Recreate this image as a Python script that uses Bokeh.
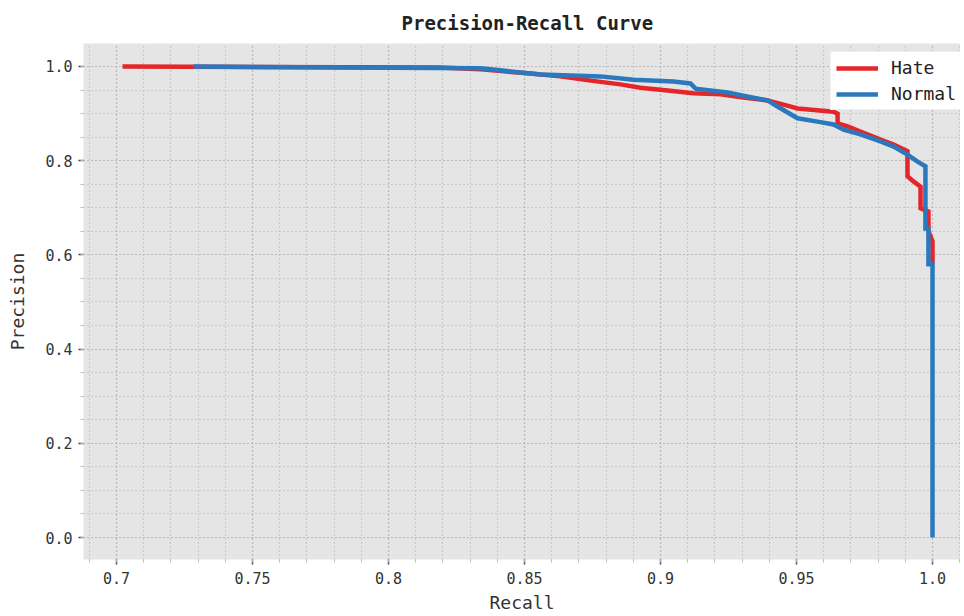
from bokeh.plotting import figure
from bokeh.models import FixedTicker, Range1d
from bokeh.embed import file_html
from bokeh.resources import INLINE

# ---- data ----
hate_recall = [0.7022, 0.8191, 0.8338, 0.8522, 0.8632, 0.8743, 0.8853, 0.8926, 0.9026, 0.9121,
               0.9221, 0.9305, 0.9393, 0.9452, 0.9504, 0.9636, 0.9651, 0.9651, 0.9688, 0.9735,
               0.9809, 0.9857, 0.9908, 0.9908, 0.9930, 0.9956, 0.9956, 0.9985, 0.9985, 1.0, 1.0]
hate_precision = [1.0, 0.998, 0.994, 0.985, 0.979, 0.970, 0.962, 0.955, 0.949, 0.943,
                  0.941, 0.934, 0.928, 0.919, 0.911, 0.904, 0.900, 0.879, 0.873, 0.862,
                  0.845, 0.834, 0.820, 0.767, 0.756, 0.745, 0.699, 0.692, 0.650, 0.629, 0.582]

normal_recall = [0.7283, 0.8338, 0.8559, 0.8779, 0.8901, 0.9048, 0.9110, 0.9129, 0.9246, 0.9305,
                 0.9393, 0.9430, 0.9504, 0.9577, 0.9636, 0.9673, 0.9735, 0.9809, 0.9857, 0.9908,
                 0.9945, 0.9974, 0.9974, 0.9985, 0.9985, 1.0, 1.0]
normal_precision = [1.0, 0.996, 0.983, 0.979, 0.972, 0.968, 0.964, 0.953, 0.945, 0.938,
                    0.928, 0.915, 0.890, 0.883, 0.877, 0.866, 0.856, 0.841, 0.830, 0.813,
                    0.798, 0.788, 0.656, 0.656, 0.580, 0.580, 0.0]

series_names = ["Hate", "Normal"]
series_colors = ["#e4262b", "#2b78bd"]

x_ticks = [0.7, 0.75, 0.8, 0.85, 0.9, 0.95, 1.0]
x_tick_labels = ["0.7", "0.75", "0.8", "0.85", "0.9", "0.95", "1.0"]
y_ticks = [0.0, 0.2, 0.4, 0.6, 0.8, 1.0]
y_tick_labels = ["0.0", "0.2", "0.4", "0.6", "0.8", "1.0"]
x_minor = [round(0.69 + 0.01 * i, 2) for i in range(33)]
y_minor = [round(-0.05 + 0.05 * i, 2) for i in range(23)]

MONO = "DejaVu Sans Mono"

p = figure(frame_width=877, frame_height=516, output_backend="svg", toolbar_location=None,
           x_range=Range1d(0.68787, 1.01029), y_range=Range1d(-0.0467, 1.0488),
           min_border_left=83, min_border_right=0, min_border_top=42, min_border_bottom=10,
           title="Precision-Recall Curve")

p.background_fill_color = "#e5e5e5"
p.border_fill_color = "white"
p.outline_line_color = None

p.title.text_font = MONO
p.title.text_font_size = "19px"
p.title.text_font_style = "bold"
p.title.align = "left"
p.title.offset = 318
p.title.standoff = 19
p.title.text_color = "#222222"

p.xaxis.ticker = FixedTicker(ticks=x_ticks, minor_ticks=x_minor)
p.yaxis.ticker = FixedTicker(ticks=y_ticks, minor_ticks=y_minor)
p.xaxis.major_label_overrides = dict(zip(x_ticks, x_tick_labels))
p.yaxis.major_label_overrides = dict(zip(y_ticks, y_tick_labels))

for ax in (p.xaxis[0], p.yaxis[0]):
    ax.axis_line_color = None
    ax.major_tick_line_color = "#444444"
    ax.major_tick_line_width = 1.5
    ax.major_tick_out = 5
    ax.major_tick_in = 0
    ax.minor_tick_line_color = "#bbbbbb"
    ax.minor_tick_out = 3
    ax.minor_tick_in = 0
    ax.major_label_text_font = MONO
    ax.major_label_text_font_size = "15px"
    ax.major_label_text_color = "#333333"
    ax.axis_label_text_font = MONO
    ax.axis_label_text_font_size = "18px"
    ax.axis_label_text_font_style = "normal"
    ax.axis_label_text_color = "#333333"

p.xaxis.axis_label = "Recall"
p.yaxis.axis_label = "Precision"
p.xaxis.major_label_standoff = 7
p.xaxis.axis_label_standoff = 5
p.yaxis.major_label_standoff = 6
p.yaxis.axis_label_standoff = 14

for g in (p.xgrid[0], p.ygrid[0]):
    g.grid_line_color = "#a8a8a8"
    g.grid_line_dash = "1 3"
    g.grid_line_width = 1.2
    g.minor_grid_line_color = "#b0b0b0"
    g.minor_grid_line_dash = "1 3"
    g.minor_grid_line_width = 1.2

p.line(hate_recall, hate_precision, line_color=series_colors[0], line_width=4.5,
       line_join="miter", legend_label=series_names[0])
p.line(normal_recall, normal_precision, line_color=series_colors[1], line_width=4.5,
       line_join="miter", legend_label=series_names[1])

lg = p.legend[0]
lg.location = (747, 449)
lg.margin = 0
lg.padding = 5
lg.spacing = 5
lg.glyph_width = 42
lg.glyph_height = 20
lg.label_height = 20
lg.label_standoff = 13
lg.label_text_font = MONO
lg.label_text_font_size = "18px"
lg.label_text_color = "#222222"
lg.border_line_color = "#dddddd"
lg.background_fill_color = "white"
lg.background_fill_alpha = 1.0

open("out.html", "w").write(file_html(p, INLINE))
